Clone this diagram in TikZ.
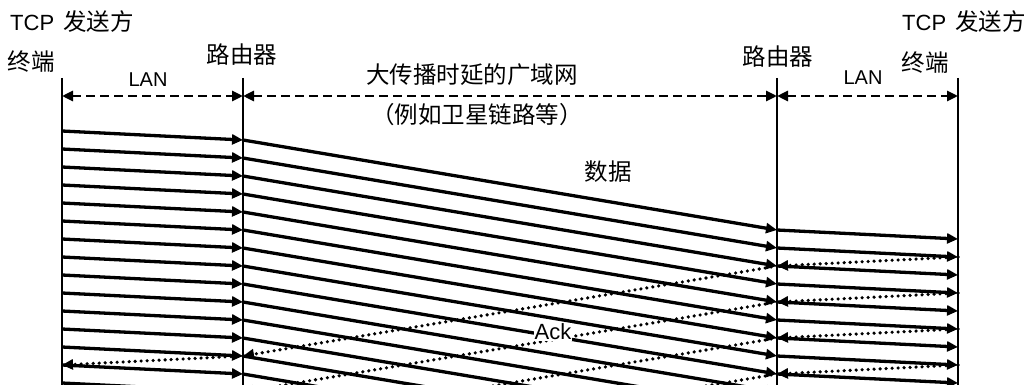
\documentclass[tikz,border=0pt]{standalone}
\usepackage{fontspec}
\setmainfont{Liberation Sans}
\newfontfamily\cjk{Noto Sans CJK SC}
\usetikzlibrary{arrows.meta}
\begin{document}
\begin{tikzpicture}[x=1pt,y=-1pt,
 vline/.style={line width=2pt},
 spanarrow/.style={line width=2.8pt, dash pattern=on 9pt off 5pt, {Triangle[length=11pt,width=10pt]}-{Triangle[length=11pt,width=10pt]}},
 dataline/.style={line width=3.3pt, -{Triangle[length=11pt,width=10pt]}},
 ackline/.style={line width=3.6pt, dash pattern=on 0pt off 6pt, line cap=round, -{Triangle[length=11pt,width=10pt]}},
 lbl/.style={font=\fontsize{22}{22}\selectfont, inner sep=0pt},
 lanlbl/.style={font=\fontsize{20}{20}\selectfont, inner sep=0pt},
 cj/.style={font=\fontsize{23.5}{23.5}\selectfont\cjk, inner sep=0pt},
]
\useasboundingbox (0,0) rectangle (1035,385);
% vertical lines
\coordinate (t1a) at (62,78);  \coordinate (t1b) at (62,385);
\coordinate (r1a) at (243,78); \coordinate (r1b) at (243,385);
\coordinate (r2a) at (777,78); \coordinate (r2b) at (777,385);
\coordinate (t2a) at (958,78); \coordinate (t2b) at (958,385);
\draw[vline] (t1a) -- (t1b);
\draw[vline] (r1a) -- (r1b);
\draw[vline] (r2a) -- (r2b);
\draw[vline] (t2a) -- (t2b);
% span arrows
\coordinate (s1) at (62,96); \coordinate (s2) at (243,96);
\coordinate (s3) at (777,96); \coordinate (s4) at (958,96);
\draw[spanarrow] (s1) -- (s2);
\draw[spanarrow] (s2) -- (s3);
\draw[spanarrow] (s3) -- (s4);
% labels
\node[lbl, anchor=west] (tcpl) at (10,22) {TCP\hspace{9pt}{\cjk\fontsize{23.5}{23.5}\selectfont 发送方}};
\node[lbl, anchor=west] (tcpr) at (902,22) {TCP\hspace{9pt}{\cjk\fontsize{23.5}{23.5}\selectfont 发送方}};
\node[cj] (zdl) at (31,62) {终端};
\node[cj] (zdr) at (925,63) {终端};
\node[cj] (lyl) at (242,55) {路由器};
\node[cj] (lyr) at (778,57) {路由器};
\node[cj] (wan) at (472,75) {大传播时延的广域网};
\node[cj] (sat) at (477,115) {（例如卫星链路等）};
\node[lanlbl] (lanl) at (148,80) {LAN};
\node[lanlbl] (lanr) at (863,78) {LAN};
\node[cj] (dat) at (608,172) {数据};
\begin{scope}
\clip (0,0) rectangle (1035,385);
% data packets
\foreach \k in {0,...,14} {
  \coordinate (a\k) at (62,{131+18*\k});
  \coordinate (b\k) at (243,{140+18*\k});
  \coordinate (c\k) at (777,{230+18*\k});
  \coordinate (d\k) at (958,{239+18*\k});
  \draw[dataline] (a\k) -- (b\k);
}
\foreach \k in {0,...,13} {
  \draw[dataline] (b\k) -- (c\k);
}
\foreach \k in {0,...,8} {
  \draw[dataline] (c\k) -- (d\k);
}
% acks
\foreach \j in {0,...,3} {
  \coordinate (e\j) at (958,{257+36*\j});
  \coordinate (f\j) at (777,{266+36*\j});
  \coordinate (g\j) at (243,{356+36*\j});
  \coordinate (h\j) at (62,{365+36*\j});
  \draw[ackline] (e\j) -- (f\j);
  \draw[ackline] (f\j) -- (g\j);
}
\draw[ackline] (g0) -- (h0);
\end{scope}
\node[lbl, fill=white, inner sep=0.5pt] (ack) at (553,332) {Ack};
\end{tikzpicture}
\end{document}
